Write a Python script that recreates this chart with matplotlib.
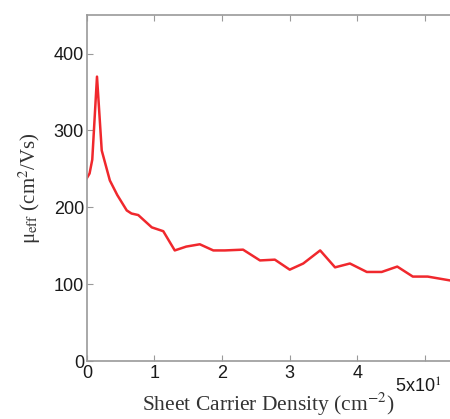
import numpy as np
import matplotlib
matplotlib.use("Agg")
import matplotlib.pyplot as plt

# sheet carrier density (x10^1 cm^-2 as shown on the axis) and effective mobility
density = [0.0, 0.04, 0.08, 0.15, 0.22, 0.34, 0.45, 0.59, 0.66, 0.76, 0.96, 1.13,
           1.30, 1.47, 1.67, 1.87, 2.04, 2.31, 2.56, 2.78, 3.00, 3.20, 3.45, 3.67,
           3.89, 4.14, 4.36, 4.59, 4.82, 5.04, 5.37]
mobility = [238, 244, 262, 370, 274, 235, 216, 196, 192, 190, 174, 169,
            144, 149, 152, 144, 144, 145, 131, 132, 119, 127, 144, 122,
            127, 116, 116, 123, 110, 110, 105]

xticks = [0, 1, 2, 3, 4, 5]
xtick_labels = ["0", "1", "2", "3", "4", ""]
yticks = [0, 100, 200, 300, 400]

plt.rcParams["mathtext.fontset"] = "stix"
plt.rcParams["font.family"] = ["Liberation Sans", "DejaVu Sans"]

fig = plt.figure(figsize=(4.5, 4.19), dpi=100)
ax = fig.add_axes([0.193, 0.138, 0.807, 0.826])

ax.plot(density, mobility, color="#f0282d", lw=1.8, clip_on=True)

ax.set_xlim(0, 5.37)
ax.set_ylim(0, 450)
ax.set_xticks(xticks)
ax.set_xticklabels(xtick_labels)
ax.set_yticks(yticks)

spine_col = "#9a9a9a"
for side in ["left", "top", "bottom"]:
    ax.spines[side].set_color(spine_col)
    ax.spines[side].set_linewidth(1.2)
ax.spines["right"].set_visible(False)

ax.tick_params(axis="both", direction="in", length=4, color=spine_col,
               labelsize=13, labelcolor="#1a1a1a", pad=2)
ax.tick_params(axis="x", top=True, pad=3)

ax.set_ylabel("μ$_{\\rm eff}$ (cm$^2$/Vs)", fontsize=15, color="#333333",
              family="Liberation Serif", labelpad=8)
ax.set_xlabel("Sheet Carrier Density (cm$^{-2}$)", fontsize=15.5, color="#333333",
              family="Liberation Serif", labelpad=6)

fig.text(418 / 450, 1 - 387 / 419, "5x10$^1$", fontsize=13, color="#1a1a1a",
         ha="center", va="center")

fig.savefig("out.png", dpi=100)
